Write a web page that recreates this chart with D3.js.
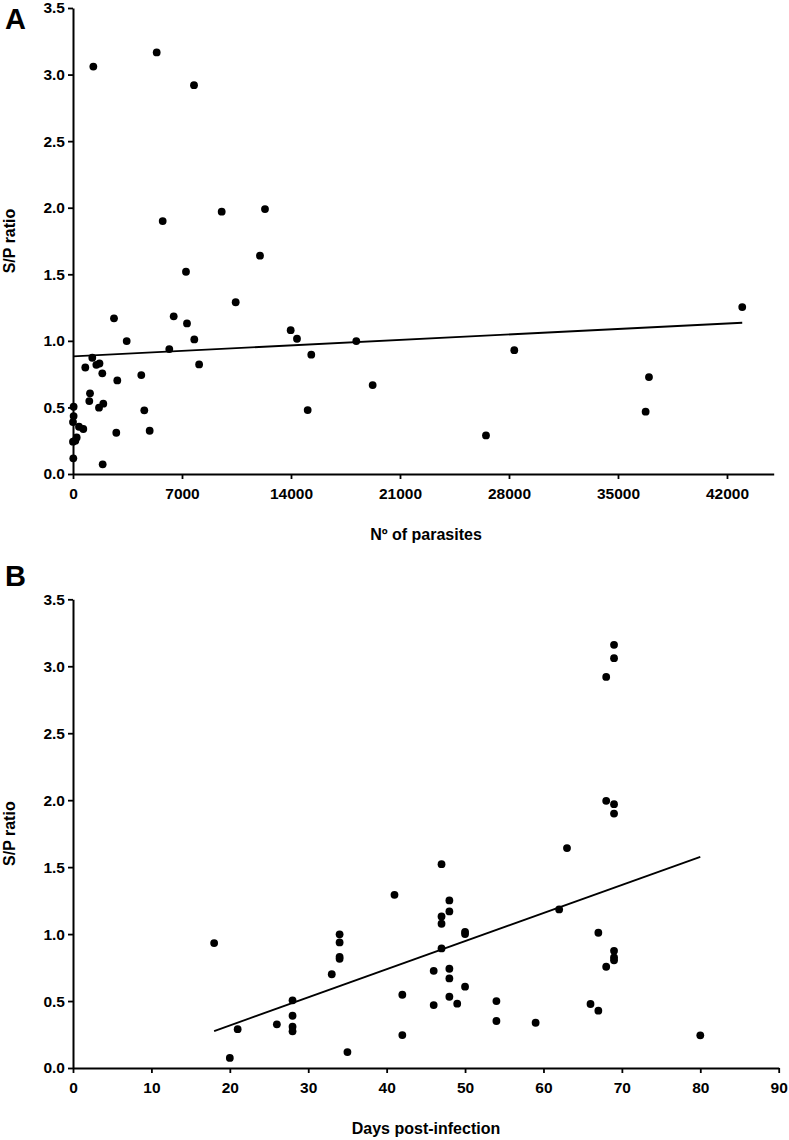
<!DOCTYPE html>
<html><head><meta charset="utf-8">
<script src="https://cdn.jsdelivr.net/npm/d3@7"></script>
<style>
body{margin:0;background:#fff;}
svg text{font-family:Arial,"Liberation Sans",sans-serif;font-weight:bold;fill:#000;}
</style></head>
<body>
<svg id="c" width="789" height="1140"></svg>
<script>
// Panel A: number of parasites vs S/P ratio
const parasitesA = [1306,5375,7771,5760,9549,12330,12009,10448,13980,14385,18193,15303,19245,15072,26523,8100,42980,28340,36990,36775,7256,2633,6467,7321,3448,7790,6184,1239,790,1500,1700,1882,2845,4386,1092,1047,1670,1946,4579,40,40,0,385,661,237,0,150,2780,4924,20,1906];
const spRatioA = [3.06,3.166,2.92,1.90,1.97,1.99,1.64,1.29,1.08,1.016,0.998,0.896,0.668,0.48,0.29,0.823,1.254,0.93,0.728,0.468,1.519,1.169,1.184,1.131,0.998,1.011,0.938,0.873,0.80,0.82,0.83,0.756,0.703,0.743,0.606,0.548,0.498,0.528,0.478,0.505,0.435,0.39,0.355,0.338,0.275,0.243,0.25,0.31,0.325,0.118,0.073];
const fitA_x = [0, 42980];
const fitA_y = [0.884, 1.136];
const ticksXA = [0,7000,14000,21000,28000,35000,42000];

// Panel B: days post-infection vs S/P ratio
const daysB = [69,69,68,68,69,69,18,20,21,26,28,28,28,28,35,33,34,34,34,34,41,42,42,47,48,48,47,47,50,50,47,46,48,48,50,48,46,49,54,54,63,62,67,69,69,69,68,66,67,59,80];
const spRatioB = [3.16,3.06,2.92,1.995,1.97,1.90,0.933,0.075,0.29,0.326,0.505,0.39,0.308,0.274,0.119,0.70,0.998,0.938,0.83,0.815,1.293,0.547,0.246,1.522,1.251,1.169,1.132,1.077,1.017,1.0,0.893,0.726,0.741,0.669,0.607,0.532,0.47,0.48,0.50,0.351,1.642,1.184,1.01,0.875,0.826,0.804,0.756,0.478,0.428,0.338,0.244];
const fitB_x = [18, 80];
const fitB_y = [0.276, 1.577];
const ticksXB = [0,10,20,30,40,50,60,70,80,90];

const ticksY = [0,0.5,1.0,1.5,2.0,2.5,3.0,3.5];

const svg = d3.select("#c");

function panel(opt){
  const g = svg.append("g");
  const x = d3.scaleLinear().domain(opt.xDomain).range([73, opt.xRight]);
  const y = d3.scaleLinear().domain([0,3.5]).range([opt.yBottom, opt.yTop]);

  const xa = g.append("g").attr("transform",`translate(0,${opt.yBottom})`)
    .call(d3.axisBottom(x).tickValues(opt.xTicks).tickSize(5).tickSizeOuter(0).tickPadding(6).tickFormat(d3.format("d")));
  const ya = g.append("g").attr("transform",`translate(73,0)`)
    .call(d3.axisLeft(y).tickValues(ticksY).tickSize(5).tickSizeOuter(0).tickPadding(3).tickFormat(d3.format(".1f")));
  [xa,ya].forEach(a=>{
    a.selectAll("path.domain").attr("stroke","#000").attr("stroke-width",2);
    a.selectAll(".tick line").attr("stroke","#000").attr("stroke-width",1.8);
    a.selectAll(".tick text").attr("font-size","15.5px").attr("font-family",'Arial,"Liberation Sans",sans-serif').attr("font-weight","bold").attr("fill","#000");
  });
  xa.selectAll(".tick text").attr("dy","0.9em");

  // fit line
  const line = d3.line().x(d=>x(d[0])).y(d=>y(d[1]));
  g.append("path").datum(opt.fitX.map((v,i)=>[v,opt.fitY[i]]))
    .attr("d",line).attr("fill","none").attr("stroke","#000").attr("stroke-width",1.8);

  g.selectAll("circle").data(opt.xs.map((v,i)=>[v,opt.ys[i]])).join("circle")
    .attr("cx",d=>x(d[0])).attr("cy",d=>y(d[1])).attr("r",3.9).attr("fill","#000");

  g.append("text").attr("x",5).attr("y",opt.letterY).attr("font-size","29px").text(opt.letter);
  g.append("text").attr("transform",`translate(15,${(opt.yTop+opt.yBottom)/2}) rotate(-90)`)
    .attr("text-anchor","middle").attr("font-size","16px").text("S/P ratio");
  g.append("text").attr("x",426).attr("y",opt.xLabelY).attr("text-anchor","middle").attr("font-size","16px").text(opt.xLabel);
}

panel({xDomain:[0,45000], xRight:773.7, yTop:8, yBottom:474, xTicks:ticksXA,
  xs:parasitesA, ys:spRatioA, fitX:fitA_x, fitY:fitA_y,
  letter:"A", letterY:29, xLabel:"Nº of parasites", xLabelY:540});
panel({xDomain:[0,90], xRight:778.7, yTop:599.3, yBottom:1068, xTicks:ticksXB,
  xs:daysB, ys:spRatioB, fitX:fitB_x, fitY:fitB_y,
  letter:"B", letterY:586, xLabel:"Days post-infection", xLabelY:1134});
</script>
</body></html>
